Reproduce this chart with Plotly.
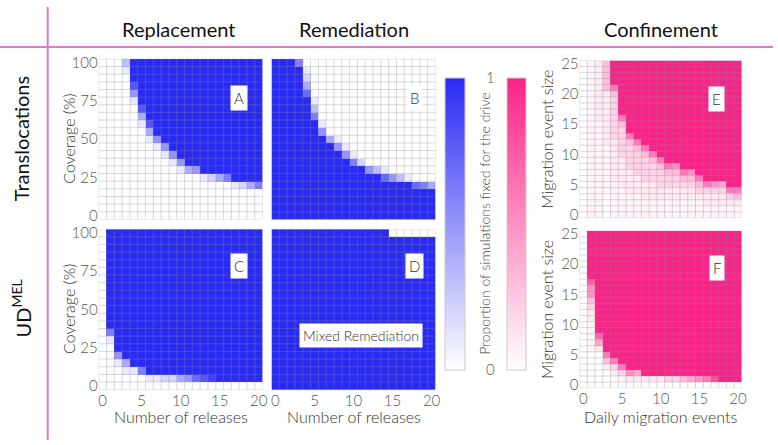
import plotly.graph_objects as go

# ---------------- data ----------------
releases = list(range(0, 21))            # Number of releases (x of A-D)
coverage = list(range(0, 101, 5))        # Coverage (%) (y of A-D)
daily_events = list(range(0, 21))        # Daily migration events (x of E-F)
event_size = list(range(0, 26))          # Migration event size (y of E-F)

cov_ticks = [0, 25, 50, 75, 100]
rel_ticks = [0, 5, 10, 15, 20]
size_ticks = [0, 5, 10, 15, 20, 25]

# Proportion fixed, coded per cell: '0'-'9' = tenths, 'X' = 1, '.' = 0.05 (spaces ignored)
# A-D: one string per coverage row, listed from 100 % (top) down to 0 %
A_rows = [
    "0003XXXXXXXXXXXXXXXXX",
    "0001XXXXXXXXXXXXXXXXX",
    "0000XXXXXXXXXXXXXXXXX",
    "00008XXXXXXXXXXXXXXXX",
    "00005XXXXXXXXXXXXXXXX",
    "00001XXXXXXXXXXXXXXXX",
    "000008XXXXXXXXXXXXXXX",
    "000004XXXXXXXXXXXXXXX",
    "0000018XXXXXXXXXXXXXX",
    "0000004XXXXXXXXXXXXXX",
    "00000015XXXXXXXXXXXXX",
    "000000015XXXXXXXXXXXX",
    "0000000015XXXXXXXXXXX",
    "00000000015XXXXXXXXXX",
    "0000000000145XXXXXXXX",
    "00000000000001246XXXX",
    "000000000000000001246",
    "000000000000000000000",
    "000000000000000000000",
    "000000000000000000000",
    "000000000000000000000",
]
B_rows = [
    "XXX600000000000000000",
    "XXXX10000000000000000",
    "XXXX20000000000000000",
    "XXXX40000000000000000",
    "XXXX70000000000000000",
    "XXXXX1000000000000000",
    "XXXXX3000000000000000",
    "XXXXX6000000000000000",
    "XXXXXX100000000000000",
    "XXXXXX500000000000000",
    "XXXXXXX41000000000000",
    "XXXXXXXX5100000000000",
    "XXXXXXXXX510000000000",
    "XXXXXXXXXX62000000000",
    "XXXXXXXXXXXX531000000",
    "XXXXXXXXXXXXXX7531000",
    "XXXXXXXXXXXXXXXXXX764",
    "XXXXXXXXXXXXXXXXXXXXX",
    "XXXXXXXXXXXXXXXXXXXXX",
    "XXXXXXXXXXXXXXXXXXXXX",
    "XXXXXXXXXXXXXXXXXXXXX",
]
C_rows = [
    "0XXXXXXXXXXXXXXXXXXXX",
    "0XXXXXXXXXXXXXXXXXXXX",
    "0XXXXXXXXXXXXXXXXXXXX",
    "0XXXXXXXXXXXXXXXXXXXX",
    "0XXXXXXXXXXXXXXXXXXXX",
    "0XXXXXXXXXXXXXXXXXXXX",
    "0XXXXXXXXXXXXXXXXXXXX",
    "0XXXXXXXXXXXXXXXXXXXX",
    "0XXXXXXXXXXXXXXXXXXXX",
    "0XXXXXXXXXXXXXXXXXXXX",
    "0XXXXXXXXXXXXXXXXXXXX",
    "0XXXXXXXXXXXXXXXXXXXX",
    "0XXXXXXXXXXXXXXXXXXXX",
    "06XXXXXXXXXXXXXXXXXXX",
    "01XXXXXXXXXXXXXXXXXXX",
    "00XXXXXXXXXXXXXXXXXXX",
    "005XXXXXXXXXXXXXXXXXX",
    "0014XXXXXXXXXXXXXXXXX",
    "000116XXXXXXXXXXXXXXX",
    "000000112245789XXXXXX",
    "000000000000000000000",
]
D_rows = ["XXXXXXXXXXXXXXX000000"] + ["XXXXXXXXXXXXXXXXXXXXX"] * 20

# E-F: one string per daily-migration column (0..20), listed from size 25 (top) down to 0
E_cols = [
    "00000 00000 00000 00000 00000 0",
    "..... ..... ..... ..... ..... .",
    "11111 11111 ..... ..... ..... .",
    "33333 11111 1111. ..... ..000 0",
    "XXXX 63 2222222 1111111 ......",
    "XXXXX XXXX 63 22222 11111 .....",
    "XXXXX XXXXX XX 63 2222 1111 ....",
    "XXXXX XXXXX XXX 63 2222 111 ....",
    "XXXXX XXXXX XXXX 63 2222 111 ...",
    "XXXXX XXXXX XXXXX 63 222 111 ...",
    "XXXXX XXXXX XXXXX X 63 222 11 ...",
    "XXXXX XXXXX XXXXX XX 63 22 11 ...",
    "XXXXX XXXXX XXXXX XX 53 22 11 ...",
    "XXXXX XXXXX XXXXX XXX 63 2 11 ...",
    "XXXXX XXXXX XXXXX XXX 53 2 11 ...",
    "XXXXX XXXXX XXXXX XXXX 63 2 1 ...",
    "XXXXX XXXXX XXXXX XXXXX 62 11 ..",
    "XXXXX XXXXX XXXXX XXXXX 52 11 ..",
    "XXXXX XXXXX XXXXX XXXXX 42 11 ..",
    "XXXXX XXXXX XXXXX XXXXX X 62 1 ..",
    "XXXXX XXXXX XXXXX XXXXX X 63 1 ..",
]
F_cols = [
    "00000 00000 00000 00000 00000 0",
    "XXXXX XXX 75532 11 ..... 00000 0",
    "XXXXX XXXXX XXXXX XX 741 00000 0",
    "XXXXX XXXXX XXXXX XXXXX 631 000",
    "XXXXX XXXXX XXXXX XXXXX X 621 00",
    "XXXXX XXXXX XXXXX XXXXX XX 62 . 0",
    "XXXXX XXXXX XXXXX XXXXX XXX 51 0",
    "XXXXX XXXXX XXXXX XXXXX XXX 41 0",
    "XXXXX XXXXX XXXXX XXXXX XXXX 1 0",
    "XXXXX XXXXX XXXXX XXXXX XXXX 1 0",
    "XXXXX XXXXX XXXXX XXXXX XXXX 1 0",
    "XXXXX XXXXX XXXXX XXXXX XXXX 2 0",
    "XXXXX XXXXX XXXXX XXXXX XXXX 2 0",
    "XXXXX XXXXX XXXXX XXXXX XXXX 3 0",
    "XXXXX XXXXX XXXXX XXXXX XXXX 4 0",
    "XXXXX XXXXX XXXXX XXXXX XXXX 5 0",
    "XXXXX XXXXX XXXXX XXXXX XXXX 6 0",
    "XXXXX XXXXX XXXXX XXXXX XXXX 8 0",
    "XXXXX XXXXX XXXXX XXXXX XXXXX 0",
    "XXXXX XXXXX XXXXX XXXXX XXXXX 0",
    "XXXXX XXXXX XXXXX XXXXX XXXXX 0",
]


def cell(ch):
    if ch == "X":
        return 1.0
    if ch == ".":
        return 0.05
    return int(ch) / 10.0


def from_rows(rows):
    z = [[cell(c) for c in r.replace(" ", "")] for r in rows]
    return z[::-1]  # bottom row first


def from_cols(cols, nrows):
    cc = [[cell(c) for c in s.replace(" ", "")] for s in cols]
    cc = [(c + [0.0] * nrows)[:nrows] for c in cc]
    z = [[cc[j][i] for j in range(len(cc))] for i in range(nrows)]
    return z[::-1]


zA, zB, zC, zD = (from_rows(r) for r in (A_rows, B_rows, C_rows, D_rows))
zE = from_cols(E_cols, len(event_size))
zF = from_cols(F_cols, len(event_size))

# ---------------- layout helpers ----------------
W, H = 778, 445
FONT = "Lato"
FW = 300
BLUE = "#2A2AF5"
PINK = "#FA2388"


def fx(p):
    return p / W


def fy(p):
    return 1 - p / H


def fnt(size, color, weight=FW):
    return dict(family=FONT, size=size, color=color, weight=weight)


panels = [
    (zA, releases, coverage, "coloraxis", (99.3, 264.3), (53.3, 218.3), False, True, cov_ticks, "A", (0.911, 0.835)),
    (zB, releases, coverage, "coloraxis", (273.3, 438.3), (53.3, 218.3), False, False, cov_ticks, "B", (0.922, 0.835)),
    (zC, releases, coverage, "coloraxis", (99.3, 264.3), (228.3, 393.3), True, True, cov_ticks, "C", (0.913, 0.85)),
    (zD, releases, coverage, "coloraxis", (273.3, 438.3), (228.3, 393.3), True, False, cov_ticks, "D", (0.928, 0.85)),
    (zE, daily_events, event_size, "coloraxis2", (583.3, 746.7), (55.0, 216.7), False, True, size_ticks, "E", (0.895, 0.835)),
    (zF, daily_events, event_size, "coloraxis2", (583.3, 746.7), (230.0, 391.7), True, True, size_ticks, "F", (0.895, 0.848)),
]

fig = go.Figure()
annotations = []
layout_axes = {}

for i, (z, xs, ys, ca, xp, yp, showx, showy, yt, letter, lpos) in enumerate(panels, start=1):
    sfx = "" if i == 1 else str(i)
    dx = xs[1] - xs[0]
    dy = ys[1] - ys[0]
    x0, x1 = xs[0] - dx / 2, xs[-1] + dx / 2
    y0, y1 = ys[0] - dy / 2, ys[-1] + dy / 2
    fig.add_trace(go.Heatmap(z=z, x=xs, y=ys, coloraxis=ca, xaxis="x" + sfx, yaxis="y" + sfx,
                             zsmooth=False, hoverinfo="skip"))
    gx, gy = [], []
    for k in range(len(xs) + 1):
        xv = x0 + k * dx
        gx += [xv, xv, None]
        gy += [y0, y1, None]
    for k in range(len(ys) + 1):
        yv = y0 + k * dy
        gx += [x0, x1, None]
        gy += [yv, yv, None]
    fig.add_trace(go.Scatter(x=gx, y=gy, mode="lines", xaxis="x" + sfx, yaxis="y" + sfx,
                             line=dict(color="rgba(140,140,155,0.33)", width=1),
                             hoverinfo="skip", showlegend=False))
    layout_axes["xaxis" + sfx] = dict(
        domain=[fx(xp[0]), fx(xp[1])], range=[x0, x1], anchor="y" + sfx,
        showgrid=False, zeroline=False, showline=False, ticks="",
        tickvals=rel_ticks, showticklabels=showx,
        tickfont=fnt(15, "#555555"), fixedrange=True)
    layout_axes["yaxis" + sfx] = dict(
        domain=[fy(yp[1]), fy(yp[0])], range=[y0, y1], anchor="x" + sfx,
        showgrid=False, zeroline=False, showline=False, ticks="",
        tickvals=yt, showticklabels=showy,
        tickfont=fnt(15, "#555555"), fixedrange=True)
    annotations.append(dict(text=letter, xref="x%s domain" % sfx, yref="y%s domain" % sfx,
                            x=lpos[0], y=lpos[1], showarrow=False, bgcolor="white",
                            borderpad=3, font=fnt(15, "#333333")))


def ann(text, x, y, size, color="#333333", angle=0, weight=FW):
    annotations.append(dict(text=text, x=fx(x), y=fy(y), xref="paper", yref="paper",
                            showarrow=False, textangle=angle, xanchor="center",
                            yanchor="middle", font=fnt(size, color, weight)))


ann("Replacement", 180, 23, 20, "#111111", weight=400)
ann("Remediation", 356, 23, 20, "#111111", weight=400)
ann("Confinement", 665, 23, 20, "#111111", weight=400)
ann("Translocations", 21, 135, 20, "#111111", -90, weight=400)
ann("UD<sup>MEL</sup>", 21, 310, 20, "#111111", -90, weight=400)
ann("Coverage (%)", 69, 135.8, 16, "#333333", -90)
ann("Coverage (%)", 69, 310.8, 16, "#333333", -90)
ann("Number of releases", 181.8, 421, 16)
ann("Number of releases", 355.8, 421, 16)
ann("Migration event size", 550, 136, 16, "#333333", -90)
ann("Migration event size", 550, 311, 16, "#333333", -90)
ann("Daily migration events", 665, 421, 16)
ann("Proportion of simulations fixed for the drive", 488, 223, 14, "#444444", -90)
annotations.append(dict(text="Mixed Remediation", xref="x4 domain", yref="y4 domain",
                        x=0.545, y=0.258, showarrow=False, bgcolor="white", borderpad=3,
                        font=fnt(14, "#333333")))

cb_common = dict(y=fy(223), yanchor="middle", len=300 / H, lenmode="fraction",
                 thicknessmode="pixels", outlinecolor="#cccccc", outlinewidth=1,
                 xpad=0, ypad=0, xanchor="left")

fig.update_layout(
    width=W, height=H, margin=dict(l=0, r=0, t=0, b=0),
    paper_bgcolor="white", plot_bgcolor="white", showlegend=False,
    font=dict(family=FONT, weight=FW),
    coloraxis=dict(cmin=0, cmax=1, colorscale=[[0, "#FFFFFF"], [1, BLUE]],
                   colorbar=dict(x=fx(448), thickness=20, tickvals=[0, 1], ticktext=["0", "1"],
                                 ticks="outside", ticklen=18, tickcolor="rgba(0,0,0,0)",
                                 tickfont=fnt(15, "#555555"), **cb_common)),
    coloraxis2=dict(cmin=0, cmax=1, colorscale=[[0, "#FFFFFF"], [1, PINK]],
                    colorbar=dict(x=fx(510), thickness=19, showticklabels=False, ticks="",
                                  **cb_common)),
    annotations=annotations,
    shapes=[
        dict(type="line", xref="paper", yref="paper", x0=fx(48), x1=fx(48), y0=0, y1=1,
             line=dict(color="#E676C9", width=2)),
        dict(type="line", xref="paper", yref="paper", x0=0, x1=1, y0=fy(41), y1=fy(41),
             line=dict(color="#E676C9", width=2)),
    ],
    **layout_axes,
)

fig.write_html("out.html", config={"displayModeBar": False, "staticPlot": True},
               post_script="document.body.style.margin='0px';document.body.style.overflow='hidden';")
